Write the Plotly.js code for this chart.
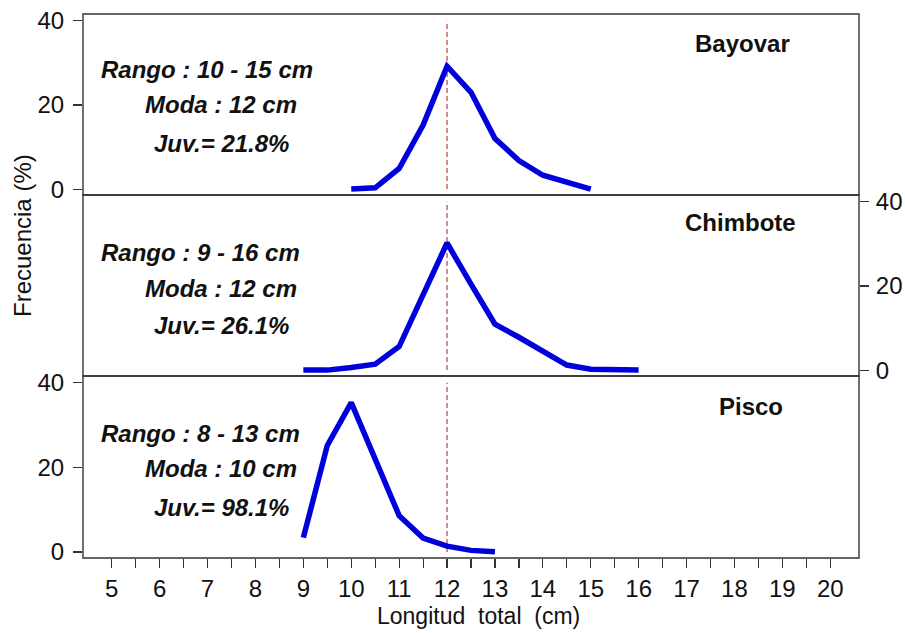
<!DOCTYPE html>
<html>
<head>
<meta charset="utf-8">
<script src="https://cdn.plot.ly/plotly-3.0.1.min.js"></script>
<style>
html,body{margin:0;padding:0;background:#fff;}
#chart{width:905px;height:633px;}
</style>
</head>
<body>
<div id="chart"></div>
<script>
// ---- data ----
const sites = ['Bayovar', 'Chimbote', 'Pisco'];
const rangoText = ['Rango : 10 - 15 cm', 'Rango : 9 - 16 cm', 'Rango : 8 - 13 cm'];
const modaText = ['Moda : 12 cm', 'Moda : 12 cm', 'Moda : 10 cm'];
const juvText = ['Juv.= 21.8%', 'Juv.= 26.1%', 'Juv.= 98.1%'];

const bayovarLen = [10, 10.5, 11, 11.5, 12, 12.5, 13, 13.5, 14, 14.5, 15];
const bayovarFreq = [0, 0.3, 4.9, 15.2, 29.2, 23.0, 12.0, 6.8, 3.3, 1.7, 0];

const chimboteLen = [9, 9.5, 10, 10.5, 11, 11.5, 12, 12.5, 13, 13.5, 14, 14.5, 15, 15.5, 16];
const chimboteFreq = [0, 0, 0.6, 1.4, 5.6, 18.0, 30.2, 20.4, 10.9, 7.8, 4.6, 1.2, 0.2, 0, 0];

const piscoLen = [9, 9.5, 10, 10.5, 11, 11.5, 12, 12.5, 13];
const piscoFreq = [3.4, 25.2, 35.3, 22.0, 8.6, 3.3, 1.4, 0.4, 0.1];

const xTickLabels = ['5','6','7','8','9','10','11','12','13','14','15','16','17','18','19','20'];
const yTickVals = [0, 20, 40];
const yTickLabels = ['0', '20', '40'];
const refLength = 12;   // talla de referencia (línea discontinua)

// ---- layout helpers ----
const W = 905, H = 633, ML = 83, MR = 46, MT = 14, MB = 75;
const PW = W - ML - MR, PH = H - MT - MB;
const px = p => (p - ML) / PW;
const py = p => (H - MB - p) / PH;

const xTickVals = [];
const xTickText = [];
xTickLabels.forEach((lab, i) => {
  const v = parseFloat(lab);
  xTickVals.push(v); xTickText.push(lab);
  if (i < xTickLabels.length - 1) { xTickVals.push(v + 0.5); xTickText.push(''); }
});

const lineStyle = {color: '#0000dc', width: 5.5};
const traces = [
  {x: bayovarLen, y: bayovarFreq, yaxis: 'y3', name: sites[0]},
  {x: chimboteLen, y: chimboteFreq, yaxis: 'y2', name: sites[1]},
  {x: piscoLen, y: piscoFreq, yaxis: 'y', name: sites[2]}
].map(t => Object.assign(t, {type: 'scatter', mode: 'lines', xaxis: 'x', line: lineStyle, hoverinfo: 'x+y'}));

const fontFam = '"Liberation Sans", Arial, sans-serif';
const tickFont = {family: fontFam, size: 24, color: '#111'};
const yRange = [-1.4, 41.6];

// panel boundaries in pixels
const panels = [[14, 195], [195, 376], [376, 558]];
const dom = panels.map(p => [py(p[1]), py(p[0])]);

const yBase = {
  range: yRange, tickvals: yTickVals, ticktext: yTickLabels,
  ticks: 'outside', ticklen: 9, tickcolor: '#333', tickwidth: 1.2,
  showline: false, showgrid: false, zeroline: false, tickfont: tickFont,
  ticklabelstandoff: 4, fixedrange: true
};

const layout = {
  width: W, height: H,
  margin: {l: ML, r: MR, t: MT, b: MB},
  paper_bgcolor: '#fff', plot_bgcolor: '#fff',
  showlegend: false,
  font: {family: fontFam, color: '#111'},
  xaxis: {
    range: [4.4, 20.6], tickvals: xTickVals, ticktext: xTickText,
    ticks: 'outside', ticklen: 9, tickcolor: '#333', tickwidth: 1.2,
    showline: false, showgrid: false, zeroline: false, tickfont: tickFont,
    anchor: 'y', fixedrange: true, ticklabelstandoff: 0
  },
  yaxis: Object.assign({}, yBase, {domain: dom[2], side: 'left', anchor: 'x'}),
  yaxis2: Object.assign({}, yBase, {domain: dom[1], side: 'right', anchor: 'x', ticklabelstandoff: 2}),
  yaxis3: Object.assign({}, yBase, {domain: dom[0], side: 'left', anchor: 'x'}),
  shapes: [],
  annotations: []
};

// panel frames
panels.forEach(p => {
  layout.shapes.push({type: 'rect', xref: 'paper', yref: 'paper',
    x0: 0, x1: 1, y0: py(p[1]), y1: py(p[0]),
    line: {color: '#333', width: 1.4}, fillcolor: 'rgba(0,0,0,0)', layer: 'above'});
});
// reference dashed line at modal length in each panel
['y3', 'y2', 'y'].forEach(ya => {
  layout.shapes.push({type: 'line', xref: 'x', yref: ya,
    x0: refLength, x1: refLength, y0: yTickVals[0], y1: yTickVals[yTickVals.length - 1],
    line: {color: '#c0504d', width: 1.3, dash: '5px,3px'}, layer: 'below'});
});

// text annotations per panel
const txtY = [[70, 105, 143], [252, 288, 325], [433, 468, 507]];
const txtX = [207, 221, 221];
const txtXmid = [200, 221, 221];
const nameXY = [[742, 43], [740, 223], [751, 406]];
const noteFont = {family: fontFam, size: 24, color: '#111'};
sites.forEach((s, i) => {
  const xs = i === 0 ? txtX : txtXmid;
  [rangoText[i], modaText[i], juvText[i]].forEach((t, k) => {
    layout.annotations.push({xref: 'paper', yref: 'paper', x: px(xs[k]), y: py(txtY[i][k]),
      xanchor: 'center', yanchor: 'middle', showarrow: false,
      text: '<b><i>' + t + '</i></b>', font: noteFont});
  });
  layout.annotations.push({xref: 'paper', yref: 'paper', x: px(nameXY[i][0]), y: py(nameXY[i][1]),
    xanchor: 'center', yanchor: 'middle', showarrow: false,
    text: '<b>' + s + '</b>', font: noteFont});
});
// axis titles
layout.annotations.push({xref: 'paper', yref: 'paper', x: px(478), y: py(616),
  xanchor: 'center', yanchor: 'middle', showarrow: false,
  text: 'Longitud  total  (cm)', font: {family: fontFam, size: 23, color: '#111'}});
layout.annotations.push({xref: 'paper', yref: 'paper', x: px(22), y: py(236),
  xanchor: 'center', yanchor: 'middle', showarrow: false, textangle: -90,
  text: 'Frecuencia (%)', font: {family: fontFam, size: 24, color: '#111'}});

Plotly.newPlot('chart', traces, layout, {displayModeBar: false, staticPlot: true});
</script>
</body>
</html>
